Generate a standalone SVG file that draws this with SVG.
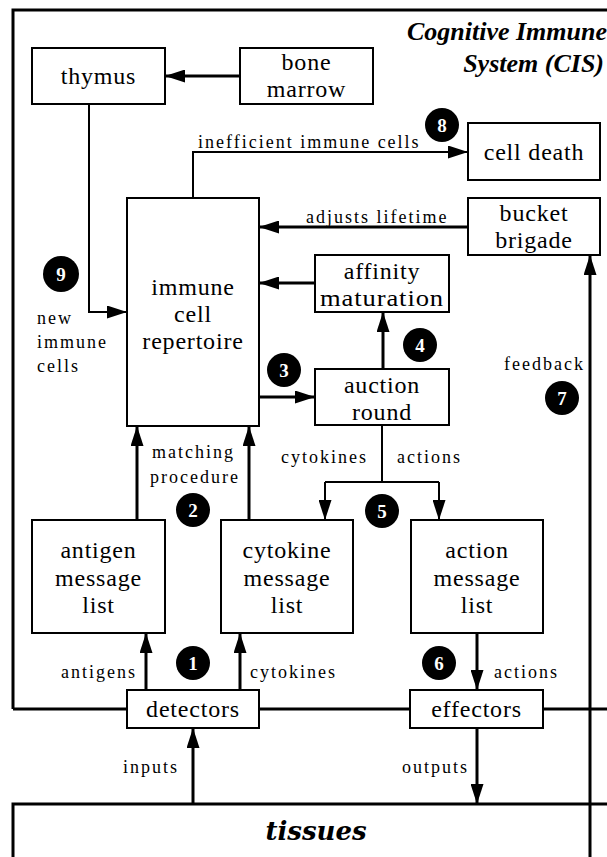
<svg xmlns="http://www.w3.org/2000/svg" width="607" height="857" viewBox="0 0 607 857">
<style>
text{font-family:'Liberation Serif','Times New Roman',Times,serif}
.box{fill:#fff;stroke:#000;stroke-width:2}
.lbl{font-size:24px;letter-spacing:0.8px;text-anchor:middle;fill:#000}
.sm{font-size:18px;letter-spacing:2px;fill:#000}
.num circle{fill:#000}
.num text{font-size:19px;font-weight:bold;fill:#fff;text-anchor:middle}
.thick{fill:none;stroke:#000;stroke-width:3}
.thin{fill:none;stroke:#000;stroke-width:2}
.title{font-size:26px;font-weight:bold;font-style:italic;text-anchor:end}
.tis{font-family:'DejaVu Serif',serif;font-size:26px;font-weight:bold;font-style:italic;text-anchor:middle}
</style>
<defs>
<marker id="ah" markerUnits="userSpaceOnUse" markerWidth="20" markerHeight="13" viewBox="0 0 20 13" refX="20" refY="6.5" orient="auto">
<path d="M0,0 L20,6.5 L0,13 z" fill="#000"/>
</marker>
</defs>
<rect width="607" height="857" fill="#fff"/>

<g id="cis-border">
<path class="thick" d="M13,709 V10 H607"/>
<path class="thick" d="M13,709 H127 M259,709 H410 M543,709 H607"/>
<text class="title" x="607" y="40">Cognitive Immune</text>
<text class="title" x="604" y="72">System (CIS)</text>
</g>

<g id="tissues">
<path class="thick" d="M607,804 H13 V857"/>
<text class="tis" x="316" y="840">tissues</text>
</g>

<g id="connectors">
<path class="thick" d="M240,76 H165" marker-end="url(#ah)"/>
<path class="thin" d="M193,198 V152 H468" marker-end="url(#ah)"/>
<path class="thick" d="M468,227 H259" marker-end="url(#ah)"/>
<path class="thick" d="M315,283 H259" marker-end="url(#ah)"/>
<path class="thick" d="M259,397 H315" marker-end="url(#ah)"/>
<path class="thick" d="M383,369 V312" marker-end="url(#ah)"/>
<path class="thin" d="M89,104 V312 H127" marker-end="url(#ah)"/>
<path class="thick" d="M590,857 V255" marker-end="url(#ah)"/>
<path class="thick" d="M137,520 V426" marker-end="url(#ah)"/>
<path class="thick" d="M249,520 V426" marker-end="url(#ah)"/>
<path class="thin" d="M382,425 V482 M325,482 H439"/>
<path class="thin" d="M325,482 V520" marker-end="url(#ah)"/>
<path class="thin" d="M439,482 V520" marker-end="url(#ah)"/>
<path class="thick" d="M146,690 V633" marker-end="url(#ah)"/>
<path class="thick" d="M240,690 V633" marker-end="url(#ah)"/>
<path class="thick" d="M477,633 V690" marker-end="url(#ah)"/>
<path class="thick" d="M193,804 V728" marker-end="url(#ah)"/>
<path class="thick" d="M477,728 V804" marker-end="url(#ah)"/>
<text class="sm" x="198" y="148">inefficient immune cells</text>
<text class="sm" x="306" y="223">adjusts lifetime</text>
<text class="sm" x="37" y="324">new</text>
<text class="sm" x="37" y="348">immune</text>
<text class="sm" x="37" y="372">cells</text>
<text class="sm" x="504" y="370">feedback</text>
<text class="sm" x="152" y="458">matching</text>
<text class="sm" x="150" y="483">procedure</text>
<text class="sm" x="281" y="463">cytokines</text>
<text class="sm" x="397" y="463">actions</text>
<text class="sm" x="61" y="678">antigens</text>
<text class="sm" x="250" y="678">cytokines</text>
<text class="sm" x="494" y="678">actions</text>
<text class="sm" x="123" y="773">inputs</text>
<text class="sm" x="402" y="773">outputs</text>
</g>

<g id="thymus"><rect class="box" x="32" y="48" width="133" height="56"/><text class="lbl" x="98.5" y="84">thymus</text></g>
<g id="bone-marrow"><rect class="box" x="240" y="48" width="133" height="56"/><text class="lbl" x="306.5" y="70">bone</text><text class="lbl" x="306.5" y="97">marrow</text></g>
<g id="cell-death"><rect class="box" x="468" y="123" width="132" height="57"/><text class="lbl" x="534" y="160">cell death</text></g>
<g id="bucket-brigade"><rect class="box" x="468" y="198" width="132" height="57"/><text class="lbl" x="534" y="221">bucket</text><text class="lbl" x="534" y="248">brigade</text></g>
<g id="repertoire"><rect class="box" x="127" y="198" width="132" height="228"/><text class="lbl" x="193" y="295">immune</text><text class="lbl" x="193" y="322">cell</text><text class="lbl" x="193" y="349">repertoire</text></g>
<g id="affinity-maturation"><rect class="box" x="315" y="255" width="134" height="57"/><text class="lbl" x="382" y="279">affinity</text><text class="lbl" x="382" y="306" textLength="124" lengthAdjust="spacingAndGlyphs">maturation</text></g>
<g id="auction-round"><rect class="box" x="315" y="369" width="134" height="56"/><text class="lbl" x="382" y="393">auction</text><text class="lbl" x="382" y="420">round</text></g>
<g id="antigen-list"><rect class="box" x="32" y="520" width="133" height="113"/><text class="lbl" x="98.5" y="558">antigen</text><text class="lbl" x="98.5" y="586">message</text><text class="lbl" x="98.5" y="613">list</text></g>
<g id="cytokine-list"><rect class="box" x="221" y="520" width="132" height="113"/><text class="lbl" x="287" y="558">cytokine</text><text class="lbl" x="287" y="586">message</text><text class="lbl" x="287" y="613">list</text></g>
<g id="action-list"><rect class="box" x="411" y="520" width="132" height="113"/><text class="lbl" x="477" y="558">action</text><text class="lbl" x="477" y="586">message</text><text class="lbl" x="477" y="613">list</text></g>
<g id="detectors"><rect class="box" x="127" y="690" width="132" height="38"/><text class="lbl" x="193" y="717">detectors</text></g>
<g id="effectors"><rect class="box" x="410" y="690" width="133" height="38"/><text class="lbl" x="476.5" y="717">effectors</text></g>

<g id="n1" class="num"><circle cx="193" cy="663" r="17"/><text x="193" y="670">1</text></g>
<g id="n2" class="num"><circle cx="193" cy="510" r="17"/><text x="193" y="517">2</text></g>
<g id="n3" class="num"><circle cx="284" cy="370" r="17"/><text x="284" y="377">3</text></g>
<g id="n4" class="num"><circle cx="420" cy="345" r="17"/><text x="420" y="352">4</text></g>
<g id="n5" class="num"><circle cx="382" cy="511" r="17"/><text x="382" y="518">5</text></g>
<g id="n6" class="num"><circle cx="439" cy="663" r="17"/><text x="439" y="670">6</text></g>
<g id="n7" class="num"><circle cx="562" cy="398" r="17"/><text x="562" y="405">7</text></g>
<g id="n8" class="num"><circle cx="442" cy="125" r="17"/><text x="442" y="132">8</text></g>
<g id="n9" class="num"><circle cx="61" cy="274" r="18"/><text x="61" y="281">9</text></g>
</svg>
